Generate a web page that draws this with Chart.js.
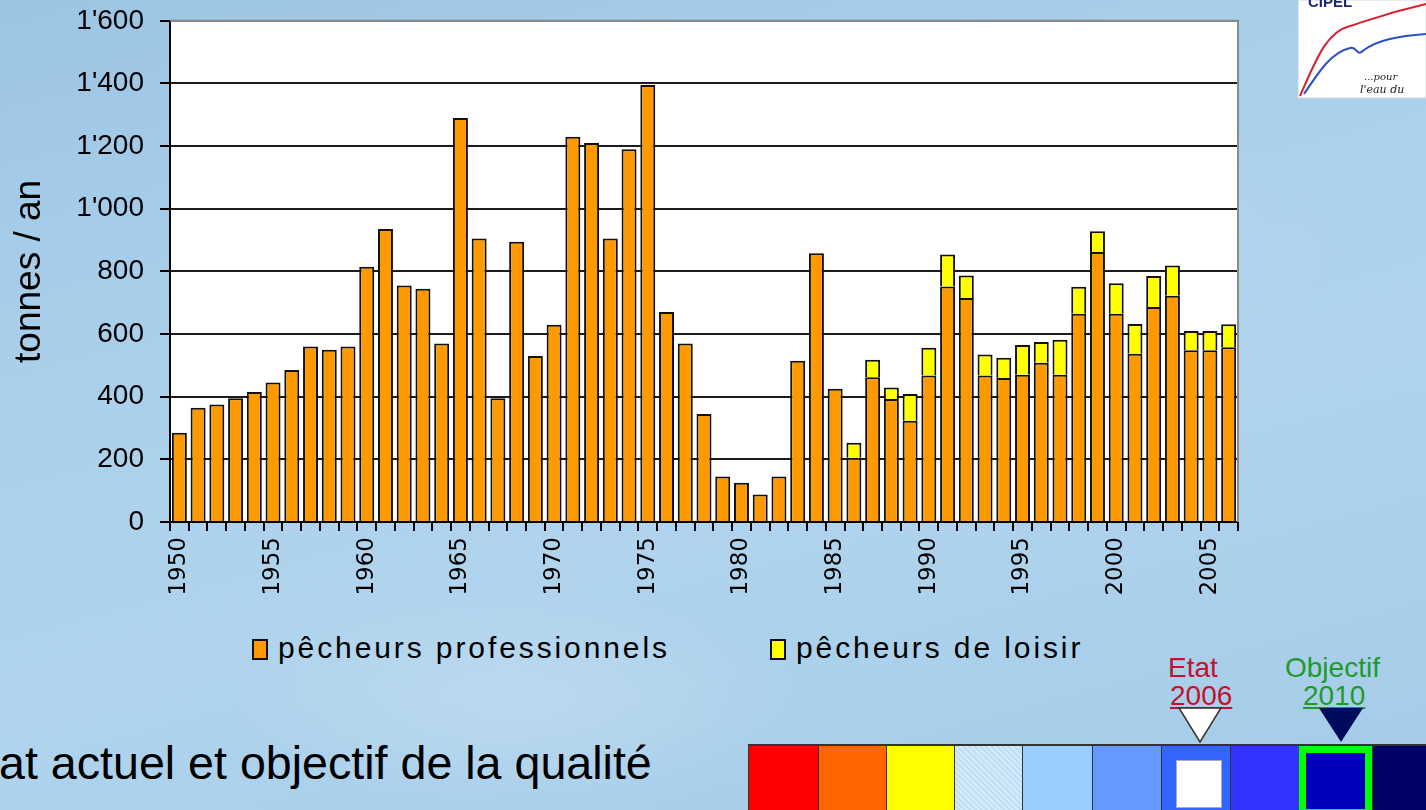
<!DOCTYPE html>
<html>
<head>
<meta charset="utf-8">
<script src="https://cdn.jsdelivr.net/npm/chart.js@4.4.0/dist/chart.umd.min.js"></script>
<style>
html,body{margin:0;padding:0;}
body{width:1426px;height:810px;overflow:hidden;position:relative;font-family:"Liberation Sans",Arial,sans-serif;
  background:
    radial-gradient(ellipse 420px 160px at 520px 700px, rgba(255,255,255,0.18), rgba(255,255,255,0) 70%),
    radial-gradient(ellipse 500px 220px at 1000px 250px, rgba(255,255,255,0.14), rgba(255,255,255,0) 70%),
    linear-gradient(165deg, #9cc5e4 0%, #abd0eb 35%, #b0d4ed 60%, #a4cbe8 100%);}
#chart{position:absolute;left:0;top:-12px;}
.legbox{position:absolute;top:639px;width:12px;height:17px;border:2px solid #111;}
.legtxt{position:absolute;top:633px;font-size:30px;line-height:30px;letter-spacing:2.9px;color:#000;white-space:nowrap;}
#bottomText{position:absolute;left:-45px;top:740px;font-size:46.6px;line-height:46px;color:#000;white-space:nowrap;}
.note{position:absolute;font-size:28px;line-height:28px;text-align:center;white-space:nowrap;}
#scale{position:absolute;left:748px;top:744px;height:70px;width:700px;border-top:2px solid #333;}
.cell{position:absolute;top:0;height:70px;border-left:1px solid #333;box-sizing:border-box;}
</style>
</head>
<body>
<canvas id="chart" width="1426" height="632"></canvas>

<svg style="position:absolute;left:1298px;top:0" width="128" height="99">
  <rect x="0" y="0" width="128" height="98" fill="#fff" stroke="#cfd8e0" stroke-width="1"/>
  <text x="10" y="7" font-family="Liberation Sans" font-weight="bold" font-size="15" fill="#1a2a6c">CIPEL</text>
  <path d="M2 96 C 18 60, 28 32, 52 26 C 72 20, 85 14, 128 4" fill="none" stroke="#d8202a" stroke-width="2"/>
  <path d="M6 94 C 22 70, 34 52, 52 48 C 60 46, 58 58, 66 50 C 80 40, 100 36, 128 34" fill="none" stroke="#2a4fc8" stroke-width="2"/>
  <text x="66" y="80" font-family="DejaVu Serif" font-style="italic" font-size="10" fill="#222">...pour</text>
  <text x="62" y="93" font-family="DejaVu Serif" font-style="italic" font-size="11" fill="#222">l'eau du</text>
</svg>

<div id="legend"></div>

<div id="bottomText">Etat actuel et objectif de la qualité</div>

<div class="note" style="left:1168px;top:654px;color:#c4122e;">Etat</div>
<div class="note" style="left:1170px;top:682px;color:#c4122e;text-decoration:underline;">2006</div>
<div class="note" style="left:1285px;top:654px;color:#1f9a2a;">Objectif</div>
<div class="note" style="left:1303px;top:682px;color:#1f9a2a;text-decoration:underline;">2010</div>
<svg style="position:absolute;left:1170px;top:704px" width="200" height="42">
  <polygon points="9,4 51,4 30,38" fill="#fff" stroke="#333" stroke-width="1.5"/>
  <polygon points="149,4 193,4 171,38" fill="#000b5c"/>
</svg>

<div id="scale">
  <div class="cell" style="left:0;width:70px;background:#ff0000;"></div>
  <div class="cell" style="left:70px;width:68px;background:#ff6600;"></div>
  <div class="cell" style="left:138px;width:68px;background:#ffff00;"></div>
  <div class="cell" style="left:206px;width:68px;background:repeating-linear-gradient(45deg,#d4ecfa 0 2px,#bfe0f4 2px 4px);"></div>
  <div class="cell" style="left:274px;width:70px;background:#99ccff;"></div>
  <div class="cell" style="left:344px;width:69px;background:#6699ff;"></div>
  <div class="cell" style="left:413px;width:69px;background:#3366ff;">
    <div style="position:absolute;left:14px;top:14px;width:44px;height:46px;background:#fff;border:1px solid #aac;"></div>
  </div>
  <div class="cell" style="left:482px;width:69px;background:#3333ff;"></div>
  <div class="cell" style="left:551px;width:73px;background:#0000bb;border:7px solid #00ff00;"></div>
  <div class="cell" style="left:624px;width:76px;background:#000066;"></div>
</div>

<script>
// categories
const years = ['1950','1951','1952','1953','1954','1955','1956','1957','1958','1959',
  '1960','1961','1962','1963','1964','1965','1966','1967','1968','1969',
  '1970','1971','1972','1973','1974','1975','1976','1977','1978','1979',
  '1980','1981','1982','1983','1984','1985','1986','1987','1988','1989',
  '1990','1991','1992','1993','1994','1995','1996','1997','1998','1999',
  '2000','2001','2002','2003','2004','2005','2006'];

// tonnes / an, pêcheurs professionnels
const proValues = [285,365,375,395,415,445,485,560,550,560,
  815,935,755,745,570,1290,905,395,895,530,
  630,1230,1210,905,1190,1395,670,570,345,145,
  125,88,145,515,858,425,205,462,393,323,
  468,752,715,468,460,470,508,470,665,862,
  665,537,686,722,548,548,558];

// tonnes / an, pêcheurs de loisir
const loisirValues = [0,0,0,0,0,0,0,0,0,0,
  0,0,0,0,0,0,0,0,0,0,
  0,0,0,0,0,0,0,0,0,0,
  0,0,0,0,0,0,48,56,36,86,
  88,102,72,67,64,95,67,112,86,66,
  97,95,99,97,62,62,73];

const seriesLabels = ['pêcheurs professionnels','pêcheurs de loisir'];
const seriesColors = ['#ff9900','#ffff00'];
const yMax = 1600, yStep = 200;

function fmtTonnes(v){
  if(v<1000) return String(v);
  return Math.floor(v/1000)+"'"+String(v%1000).padStart(3,'0');
}

// white plot area with grey frame
const plotBg={
  id:'plotBg',
  beforeDraw(chart){
    const {ctx,chartArea:a}=chart;
    ctx.save();
    ctx.fillStyle='#fff';
    ctx.fillRect(a.left,a.top,a.right-a.left,a.bottom-a.top);
    ctx.restore();
  },
  afterDatasetsDraw(chart){
    const {ctx,chartArea:a}=chart;
    ctx.save();
    ctx.strokeStyle='#8a8a8a'; ctx.lineWidth=2;
    ctx.beginPath(); ctx.moveTo(a.left,a.top); ctx.lineTo(a.right,a.top); ctx.lineTo(a.right,a.bottom); ctx.stroke();
    ctx.restore();
  }
};

const chart=new Chart(document.getElementById('chart').getContext('2d'),{
  type:'bar',
  data:{
    labels:years,
    datasets:[
      {label:seriesLabels[0],data:proValues,backgroundColor:seriesColors[0],borderColor:'#111',borderWidth:2,barPercentage:0.8,categoryPercentage:1},
      {label:seriesLabels[1],data:loisirValues,backgroundColor:seriesColors[1],borderColor:'#111',borderWidth:2,barPercentage:0.8,categoryPercentage:1}
    ]
  },
  options:{
    responsive:false,
    animation:false,
    devicePixelRatio:1,
    layout:{padding:{top:8,right:188,bottom:0,left:0}},
    plugins:{legend:{display:false},tooltip:{enabled:false}},
    scales:{
      x:{
        stacked:true,
        grid:{offset:true,drawOnChartArea:false,drawTicks:true,tickLength:9,color:'#000',lineWidth:2},
        border:{color:'#000',width:2},
        ticks:{autoSkip:false,minRotation:90,maxRotation:90,padding:6,color:'#000',
          font:{family:'DejaVu Sans',size:23},
          callback:(v,i)=>(Number(years[i])%5===0?years[i]:'')},
        afterFit:s=>{s.height=98;}
      },
      y:{
        stacked:true,min:0,max:yMax,
        ticks:{stepSize:yStep,padding:16,color:'#000',font:{family:'Liberation Sans',size:28},callback:v=>fmtTonnes(v)},
        grid:{color:c=>(c.tick&&c.tick.value===yMax?'#8a8a8a':'#1c1c1c'),lineWidth:2,tickLength:10,tickColor:'#000'},
        border:{color:'#000',width:2},
        title:{display:true,text:'tonnes / an',color:'#000',font:{family:'Liberation Sans',size:37},padding:{top:8,bottom:0}},
        afterFit:s=>{s.width=170;}
      }
    }
  },
  plugins:[plotBg]
});

// legend built from the datasets
const legendLeft=[252,770];
const legend=document.getElementById('legend');
chart.data.datasets.forEach((ds,i)=>{
  let box=document.createElement('span'); box.className='legbox';
  box.style.left=legendLeft[i]+'px'; box.style.background=ds.backgroundColor;
  let txt=document.createElement('span'); txt.className='legtxt';
  txt.style.left=(legendLeft[i]+26)+'px'; txt.textContent=ds.label;
  legend.appendChild(box); legend.appendChild(txt);
});
</script>
</body>
</html>
